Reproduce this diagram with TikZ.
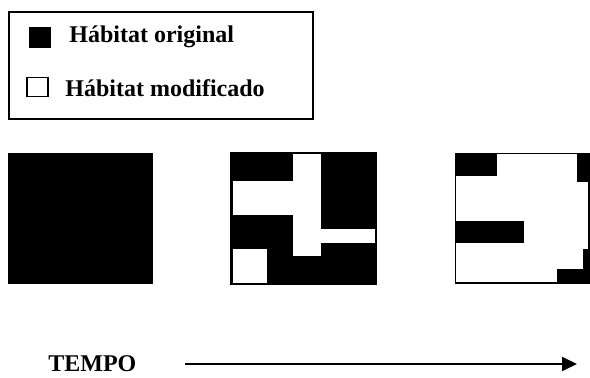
\documentclass[tikz,border=0pt]{standalone}
\usepackage{fontspec}
\setmainfont{Liberation Serif}
\usetikzlibrary{arrows.meta,positioning}

\begin{document}
\begin{tikzpicture}[x=0.5pt,y=-0.5pt,>={Triangle[length=7.5pt,width=7pt]},
    black patch/.style={fill=black,draw=none},
    white patch/.style={fill=white,draw=none},
    key box/.style={rectangle,draw=black,line width=0.6pt,inner sep=0pt,
                    minimum width=10.5pt,minimum height=9.5pt},
    key text/.style={font=\fontsize{12}{14}\selectfont\bfseries,anchor=base west,inner sep=0pt}]

      \useasboundingbox (0,0) rectangle (590,378);

      % legend
      \node[rectangle,draw=black,line width=0.8pt,minimum width=152pt,
            minimum height=53.5pt,inner sep=0pt] (legend) at (161,65.5) {};
      \node[key box,fill=black] (kOrig) at (40,37.5) {};
      \node[key box,fill=white] (kMod) at (37.5,87) {};
      \node[key text] (tOrig) at (69,43) {Hábitat original};
      \node[key text] (tMod) at (65,97) {Hábitat modificado};

      % before
      \fill[black patch] (8,153) rectangle (153,284);

      % during
      \fill[black patch] (230,152) rectangle (377,285);
      \fill[white patch] (293,154) rectangle (321,256);
      \fill[white patch] (233,181) rectangle (293,215);
      \fill[white patch] (321,229) rectangle (375,243);
      \fill[white patch] (233,249) rectangle (267,283);

      % after
      \draw[line width=0.8pt] (455.5,153.5) rectangle (589,283);
      \fill[black patch] (455,153) rectangle (497,176);
      \fill[black patch] (577,153) rectangle (590,182);
      \fill[black patch] (455,221) rectangle (524,243);
      \fill[black patch] (583,249) rectangle (590,284);
      \fill[black patch] (557,269) rectangle (590,284);

      % time axis
      \node[key text] (tempo) at (48,372) {TEMPO};
      \coordinate (t0) at (185,364);
      \coordinate (t1) at (577,364);
      \draw[->,line width=1pt] (t0) -- (t1);

\end{tikzpicture}
\end{document}
